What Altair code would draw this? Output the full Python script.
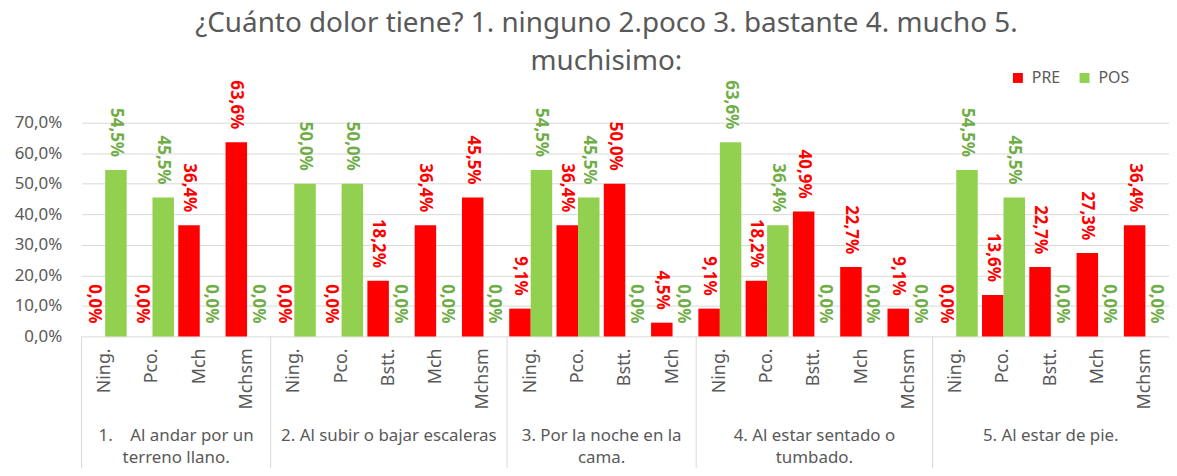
import altair as alt
import pandas as pd

# ---- data ----
group_ids = ["1", "2", "3", "4", "5"]
group_labels = [
    "1.\u00a0\u00a0\u00a0 Al andar por un\nterreno llano.",
    "2. Al subir o bajar escaleras",
    "3. Por la noche en la\ncama.",
    "4. Al estar sentado o\ntumbado.",
    "5. Al estar de pie.",
]
cats_g1 = ["Ning.", "Pco.", "Mch", "Mchsm"]
cats_g2 = ["Ning.", "Pco.", "Bstt.", "Mch", "Mchsm"]
cats_g3 = ["Ning.", "Pco.", "Bstt.", "Mch"]
cats_g4 = ["Ning.", "Pco.", "Bstt.", "Mch", "Mchsm"]
cats_g5 = ["Ning.", "Pco.", "Bstt.", "Mch", "Mchsm"]

pre_g1 = [0.0, 0.0, 36.4, 63.6]
pos_g1 = [54.5, 45.5, 0.0, 0.0]
pre_g2 = [0.0, 0.0, 18.2, 36.4, 45.5]
pos_g2 = [50.0, 50.0, 0.0, 0.0, 0.0]
pre_g3 = [9.1, 36.4, 50.0, 4.5]
pos_g3 = [54.5, 45.5, 0.0, 0.0]
pre_g4 = [9.1, 18.2, 40.9, 22.7, 9.1]
pos_g4 = [63.6, 36.4, 0.0, 0.0, 0.0]
pre_g5 = [0.0, 13.6, 22.7, 27.3, 36.4]
pos_g5 = [54.5, 45.5, 0.0, 0.0, 0.0]

series = ["PRE", "POS"]
colors = ["#FF0000", "#92D050"]
label_colors = ["#FF0000", "#70AD47"]
y_ticks = [0.0, 0.1, 0.2, 0.3, 0.4, 0.5, 0.6, 0.7]
title_line1 = "¿Cuánto dolor tiene? 1. ninguno 2.poco 3. bastante 4. mucho 5."
title_line2 = "muchisimo:"

all_cats = [cats_g1, cats_g2, cats_g3, cats_g4, cats_g5]
all_pre = [pre_g1, pre_g2, pre_g3, pre_g4, pre_g5]
all_pos = [pos_g1, pos_g2, pos_g3, pos_g4, pos_g5]

# ---- tables ----
rows, cat_rows, order = [], [], []
for g, cats, pre, pos in zip(group_ids, all_cats, all_pre, all_pos):
    for c, a, b in zip(cats, pre, pos):
        key = f"{g}|{c}"
        order.append(key)
        cat_rows.append({"key": key, "short": c})
        rows.append({"key": key, "serie": "PRE", "value": a / 100})
        rows.append({"key": key, "serie": "POS", "value": b / 100})
df = pd.DataFrame(rows)
cat_df = pd.DataFrame(cat_rows)

sep_df = pd.DataFrame([{"key": f"{g}|{cats[0]}"} for g, cats in zip(group_ids, all_cats)])

odd_rows, even_rows = [], []
for g, cats, lab in zip(group_ids, all_cats, group_labels):
    n = len(cats)
    target = odd_rows if n % 2 == 1 else even_rows
    target.append({"key": f"{g}|{cats[n // 2]}", "label": lab})
odd_df = pd.DataFrame(odd_rows)
even_df = pd.DataFrame(even_rows)

W, H = 1094, 215
FONT = "Noto Sans"
GRAY = "#595959"
xscale = alt.Scale(domain=order, paddingInner=0, paddingOuter=0)
xoff = alt.XOffset("serie:N", sort=series,
                   scale=alt.Scale(domain=series, paddingInner=0, paddingOuter=0.1))
yaxis = alt.Axis(title=None, values=y_ticks, labelOverlap=False,
                 labelExpr="replace(format(datum.value, '.1%'), '.', ',')",
                 domain=False, ticks=False, gridColor="#D9D9D9", labelFontSize=17,
                 labelColor=GRAY, labelFont=FONT, labelPadding=20)
yscale = alt.Scale(domain=[0, 0.7], nice=False)

base = alt.Chart(df).transform_calculate(
    lab="replace(format(datum.value, '.1%'), '.', ',')"
)

bars = base.mark_bar().encode(
    x=alt.X("key:N", scale=xscale, axis=None),
    xOffset=xoff,
    y=alt.Y("value:Q", scale=yscale, axis=yaxis),
    color=alt.Color("serie:N", scale=alt.Scale(domain=series, range=colors),
                    legend=alt.Legend(title=None, orient="none", legendX=934, legendY=-53,
                                      direction="horizontal", symbolType="square",
                                      symbolSize=100, labelFontSize=16, labelColor=GRAY,
                                      labelFont=FONT, columnPadding=16, labelOffset=6,
                                      padding=0, symbolStrokeWidth=0)),
)

labels = base.mark_text(angle=90, align="right", baseline="middle", dx=-13,
                        fontSize=17, fontWeight="bold", font=FONT).encode(
    x=alt.X("key:N", scale=xscale, axis=None),
    xOffset=xoff,
    y=alt.Y("value:Q", scale=yscale, axis=yaxis),
    text="lab:N",
    color=alt.condition("datum.serie == 'PRE'", alt.value(label_colors[0]), alt.value(label_colors[1])),
)

xlabels = alt.Chart(cat_df).mark_text(angle=270, align="right", baseline="middle",
                                      fontSize=18, font=FONT, color=GRAY).encode(
    x=alt.X("key:N", scale=xscale, axis=None),
    y=alt.value(H + 12),
    text="short:N",
)

seps = alt.Chart(sep_df).mark_rule(color="#D9D9D9", strokeWidth=1).encode(
    x=alt.X("key:N", scale=xscale, bandPosition=0, axis=None),
    y=alt.value(H),
    y2=alt.value(H + 150),
)

glab_odd = alt.Chart(odd_df).mark_text(lineBreak="\n", baseline="alphabetic", fontSize=17,
                                       font=FONT, color=GRAY, lineHeight=22).encode(
    x=alt.X("key:N", scale=xscale, bandPosition=0.5, axis=None),
    y=alt.value(H + 105),
    text="label:N",
)
glab_even = alt.Chart(even_df).mark_text(lineBreak="\n", baseline="alphabetic", fontSize=17,
                                         font=FONT, color=GRAY, lineHeight=22).encode(
    x=alt.X("key:N", scale=xscale, bandPosition=0, axis=None),
    y=alt.value(H + 105),
    text="label:N",
)

chart = alt.layer(bars, labels, xlabels, seps, glab_odd, glab_even).properties(
    width=W, height=H,
    title=alt.TitleParams(text=title_line1, subtitle=title_line2, fontSize=28, font=FONT,
                          color=GRAY, fontWeight="normal", anchor="middle", offset=-6,
                          subtitleFontSize=28, subtitleFont=FONT, subtitleColor=GRAY,
                          subtitleFontWeight="normal", subtitlePadding=10, dx=-19),
    autosize=alt.AutoSizeParams(type="none"),
    padding={"left": 74, "top": 114, "right": 0, "bottom": 131},
).configure_view(stroke=None)

chart.save("out.html", embed_options={"renderer": "svg", "actions": False})
